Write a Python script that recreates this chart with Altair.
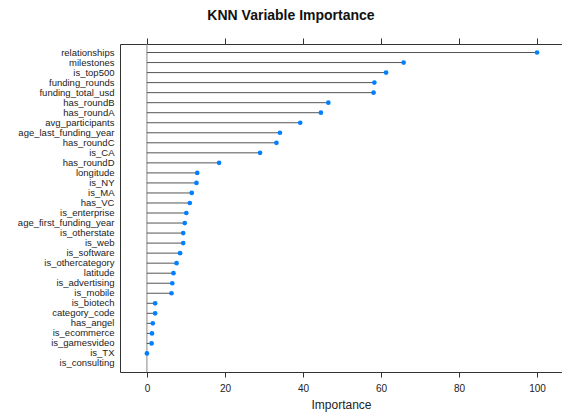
import altair as alt
import pandas as pd

variables = [
    "relationships", "milestones", "is_top500", "funding_rounds", "funding_total_usd",
    "has_roundB", "has_roundA", "avg_participants", "age_last_funding_year", "has_roundC",
    "is_CA", "has_roundD", "longitude", "is_NY", "is_MA", "has_VC", "is_enterprise",
    "age_first_funding_year", "is_otherstate", "is_web", "is_software", "is_othercategory",
    "latitude", "is_advertising", "is_mobile", "is_biotech", "category_code", "has_angel",
    "is_ecommerce", "is_gamesvideo", "is_TX", "is_consulting",
]
importance = [
    100.0, 65.8, 61.3, 58.3, 58.1,
    46.5, 44.6, 39.3, 34.1, 33.2,
    29.0, 18.5, 12.9, 12.7, 11.5, 11.0, 10.1,
    9.7, 9.3, 9.3, 8.5, 7.6,
    6.8, 6.5, 6.3, 2.1, 2.1, 1.5,
    1.3, 1.2, 0.0, None,
]
x_ticks = [0, 20, 40, 60, 80, 100]

df = pd.DataFrame({"variable": variables, "importance": importance})
df_valid = df.dropna()

FONT = "Liberation Sans"
x_dom = [-6.9, 106.4]
yscale = alt.Scale(domain=variables, padding=0.7)

x_bottom = alt.X("importance:Q", scale=alt.Scale(domain=x_dom, nice=False, zero=False),
                 axis=alt.Axis(orient="bottom", values=x_ticks, title="Importance", grid=False,
                               domainColor="#333", tickColor="#333", tickSize=5,
                               labelFont=FONT, labelFontSize=10, labelColor="#222",
                               labelPadding=6, titleFont=FONT, titleFontSize=12,
                               titleFontWeight="normal", titleColor="#222", titlePadding=6))
x_top = alt.X("importance:Q", scale=alt.Scale(domain=x_dom, nice=False, zero=False),
              axis=alt.Axis(orient="top", values=x_ticks, title=None, labels=False, grid=False,
                            domainColor="#333", tickColor="#333", tickSize=6))
y_axis = alt.Axis(title=None, ticks=False, grid=False, domainColor="#333",
                  labelFont=FONT, labelFontSize=9.5, labelColor="#222", labelPadding=6)
y_enc = alt.Y("variable:N", scale=yscale, sort=variables, axis=y_axis)

zero_line = alt.Chart(pd.DataFrame({"z": [0]})).mark_rule(color="#888", strokeWidth=1).encode(
    x=alt.X("z:Q", scale=alt.Scale(domain=x_dom, nice=False, zero=False), axis=None)
)

stems = alt.Chart(df_valid).mark_rule(color="#555", strokeWidth=1).encode(
    x=x_bottom,
    x2=alt.X2("zero:Q"),
    y=y_enc,
).transform_calculate(zero="0")

dots = alt.Chart(df_valid).mark_point(filled=True, color="#0080ff", size=22, opacity=1).encode(
    x=x_top,
    y=alt.Y("variable:N", scale=yscale, sort=variables, axis=y_axis),
)

chart = alt.layer(zero_line, stems, dots).resolve_axis(x="independent").properties(
    width=442,
    height=328,
    padding={"left": 120, "top": 44, "right": 0, "bottom": 44},
    autosize=alt.AutoSizeParams(type="none"),
    title=alt.TitleParams("KNN Variable Importance", font=FONT, fontSize=14, fontWeight="bold",
                          anchor="middle", dx=-50, offset=15, color="#111"),
).configure_view(stroke=None).configure(background="white")

chart.save("out.html", embed_options={"renderer": "svg", "actions": False})
